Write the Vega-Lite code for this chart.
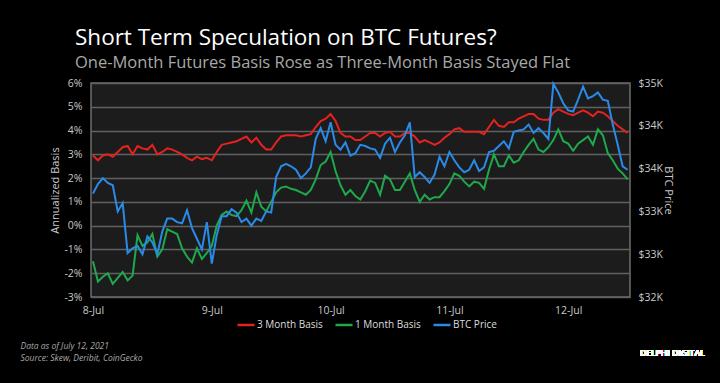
{
"$schema": "https://vega.github.io/schema/vega-lite/v6.json",
"width": 539, "height": 214,
"autosize": "none",
"padding": {"left": 91, "top": 83, "right": 90, "bottom": 86},
"background": "#000000",
"config": {
  "font": "Open Sans",
  "view": {"fill": "#1c1c1c", "stroke": "#6e6e6e", "strokeWidth": 1.5},
  "axis": {"labelColor": "#c8c8c8", "labelFontSize": 10.5, "titleColor": "#c8c8c8", "titleFontWeight": "normal", "titleFontSize": 11, "domain": false, "ticks": false, "grid": false, "labelOverlap": false}
},
"title": {"text": "Short Term Speculation on BTC Futures?", "subtitle": "One-Month Futures Basis Rose as Three-Month Basis Stayed Flat", "anchor": "start", "frame": "group", "color": "#ffffff", "fontSize": 22.5, "fontWeight": "normal", "subtitleColor": "#a8a8a8", "subtitleFontSize": 16.5, "dx": -16, "offset": 7, "subtitlePadding": 5},
"data": {"values": [
{"t":"2021-07-08T00:00","m3":2.95,"m1":-1.5,"btc":33208},
{"t":"2021-07-08T01:00","m3":2.75,"m1":-2.35,"btc":33319},
{"t":"2021-07-08T02:00","m3":2.95,"m1":-2.15,"btc":33389},
{"t":"2021-07-08T03:00","m3":3.0,"m1":-2.0,"btc":33333},
{"t":"2021-07-08T04:00","m3":2.9,"m1":-2.45,"btc":33305},
{"t":"2021-07-08T05:00","m3":3.1,"m1":-2.2,"btc":33000},
{"t":"2021-07-08T06:00","m3":3.3,"m1":-1.95,"btc":33097},
{"t":"2021-07-08T07:00","m3":3.35,"m1":-2.3,"btc":32514},
{"t":"2021-07-08T08:00","m3":3.0,"m1":-2.1,"btc":32569},
{"t":"2021-07-08T09:00","m3":3.35,"m1":-0.4,"btc":32597},
{"t":"2021-07-08T10:00","m3":3.25,"m1":-0.85,"btc":32500},
{"t":"2021-07-08T11:00","m3":3.2,"m1":-0.7,"btc":32708},
{"t":"2021-07-08T12:00","m3":3.4,"m1":-0.35,"btc":32639},
{"t":"2021-07-08T13:00","m3":3.0,"m1":-1.3,"btc":32500},
{"t":"2021-07-08T14:00","m3":3.1,"m1":-1.0,"btc":32764},
{"t":"2021-07-08T15:00","m3":3.25,"m1":-0.15,"btc":32916},
{"t":"2021-07-08T16:00","m3":3.2,"m1":-0.25,"btc":32916},
{"t":"2021-07-08T17:00","m3":3.1,"m1":-0.35,"btc":32875},
{"t":"2021-07-08T18:00","m3":3.0,"m1":-0.95,"btc":32861},
{"t":"2021-07-08T19:00","m3":2.85,"m1":-1.3,"btc":33014},
{"t":"2021-07-08T20:00","m3":2.75,"m1":-1.55,"btc":32805},
{"t":"2021-07-08T21:00","m3":2.9,"m1":-0.95,"btc":32680},
{"t":"2021-07-08T22:00","m3":2.8,"m1":-1.4,"btc":32555},
{"t":"2021-07-08T23:00","m3":2.85,"m1":-1.15,"btc":32875},
{"t":"2021-07-09T00:00","m3":2.75,"m1":-0.85,"btc":32389},
{"t":"2021-07-09T01:00","m3":3.1,"m1":0.0,"btc":32722},
{"t":"2021-07-09T02:00","m3":3.4,"m1":0.45,"btc":32944},
{"t":"2021-07-09T03:00","m3":3.45,"m1":0.6,"btc":32944},
{"t":"2021-07-09T04:00","m3":3.5,"m1":0.45,"btc":33027},
{"t":"2021-07-09T05:00","m3":3.55,"m1":0.4,"btc":32986},
{"t":"2021-07-09T06:00","m3":3.65,"m1":0.65,"btc":32875},
{"t":"2021-07-09T07:00","m3":3.75,"m1":1.05,"btc":32916},
{"t":"2021-07-09T08:00","m3":3.5,"m1":0.55,"btc":32833},
{"t":"2021-07-09T09:00","m3":3.7,"m1":1.4,"btc":32916},
{"t":"2021-07-09T10:00","m3":3.4,"m1":0.8,"btc":32889},
{"t":"2021-07-09T11:00","m3":3.2,"m1":0.6,"btc":33000},
{"t":"2021-07-09T12:00","m3":3.2,"m1":1.0,"btc":32986},
{"t":"2021-07-09T13:00","m3":3.5,"m1":1.4,"btc":33402},
{"t":"2021-07-09T14:00","m3":3.75,"m1":1.6,"btc":33527},
{"t":"2021-07-09T15:00","m3":3.8,"m1":1.65,"btc":33555},
{"t":"2021-07-09T16:00","m3":3.8,"m1":1.55,"btc":33527},
{"t":"2021-07-09T17:00","m3":3.8,"m1":1.5,"btc":33486},
{"t":"2021-07-09T18:00","m3":3.75,"m1":1.4,"btc":33389},
{"t":"2021-07-09T19:00","m3":3.8,"m1":1.3,"btc":33444},
{"t":"2021-07-09T20:00","m3":3.85,"m1":1.5,"btc":33514},
{"t":"2021-07-09T21:00","m3":4.15,"m1":1.95,"btc":33847},
{"t":"2021-07-09T22:00","m3":4.4,"m1":2.55,"btc":33972},
{"t":"2021-07-09T23:00","m3":4.5,"m1":2.7,"btc":33819},
{"t":"2021-07-10T00:00","m3":4.7,"m1":3.1,"btc":34041},
{"t":"2021-07-10T01:00","m3":4.4,"m1":2.3,"btc":33778},
{"t":"2021-07-10T02:00","m3":3.9,"m1":1.7,"btc":33722},
{"t":"2021-07-10T03:00","m3":3.75,"m1":1.3,"btc":33805},
{"t":"2021-07-10T04:00","m3":3.75,"m1":1.5,"btc":33652},
{"t":"2021-07-10T05:00","m3":3.6,"m1":1.25,"btc":33680},
{"t":"2021-07-10T06:00","m3":3.6,"m1":1.1,"btc":33778},
{"t":"2021-07-10T07:00","m3":3.75,"m1":1.45,"btc":33764},
{"t":"2021-07-10T08:00","m3":3.9,"m1":1.9,"btc":33736},
{"t":"2021-07-10T09:00","m3":3.9,"m1":1.8,"btc":33722},
{"t":"2021-07-10T10:00","m3":3.75,"m1":1.3,"btc":33625},
{"t":"2021-07-10T11:00","m3":3.9,"m1":2.1,"btc":33791},
{"t":"2021-07-10T12:00","m3":3.95,"m1":1.95,"btc":33861},
{"t":"2021-07-10T13:00","m3":3.75,"m1":1.5,"btc":33694},
{"t":"2021-07-10T14:00","m3":3.75,"m1":1.5,"btc":33805},
{"t":"2021-07-10T15:00","m3":3.9,"m1":1.85,"btc":33889},
{"t":"2021-07-10T16:00","m3":3.9,"m1":2.2,"btc":34041},
{"t":"2021-07-10T17:00","m3":3.75,"m1":1.5,"btc":33402},
{"t":"2021-07-10T18:00","m3":3.5,"m1":1.0,"btc":33458},
{"t":"2021-07-10T19:00","m3":3.6,"m1":1.3,"btc":33402},
{"t":"2021-07-10T20:00","m3":3.5,"m1":1.1,"btc":33333},
{"t":"2021-07-10T21:00","m3":3.4,"m1":1.2,"btc":33430},
{"t":"2021-07-10T22:00","m3":3.5,"m1":1.2,"btc":33639},
{"t":"2021-07-10T23:00","m3":3.7,"m1":1.45,"btc":33527},
{"t":"2021-07-11T00:00","m3":3.85,"m1":1.75,"btc":33694},
{"t":"2021-07-11T01:00","m3":4.05,"m1":2.2,"btc":33597},
{"t":"2021-07-11T02:00","m3":4.1,"m1":2.1,"btc":33514},
{"t":"2021-07-11T03:00","m3":3.95,"m1":1.85,"btc":33458},
{"t":"2021-07-11T04:00","m3":3.95,"m1":1.65,"btc":33486},
{"t":"2021-07-11T05:00","m3":3.95,"m1":1.85,"btc":33597},
{"t":"2021-07-11T06:00","m3":3.95,"m1":1.8,"btc":33472},
{"t":"2021-07-11T07:00","m3":3.85,"m1":1.55,"btc":33514},
{"t":"2021-07-11T08:00","m3":4.15,"m1":2.35,"btc":33694},
{"t":"2021-07-11T09:00","m3":4.45,"m1":3.0,"btc":33708},
{"t":"2021-07-11T10:00","m3":4.2,"m1":2.5,"btc":33764},
{"t":"2021-07-11T11:00","m3":4.15,"m1":2.5,"btc":33819},
{"t":"2021-07-11T12:00","m3":4.35,"m1":2.95,"btc":33736},
{"t":"2021-07-11T13:00","m3":4.35,"m1":2.65,"btc":33930},
{"t":"2021-07-11T14:00","m3":4.5,"m1":2.75,"btc":33944},
{"t":"2021-07-11T15:00","m3":4.6,"m1":3.1,"btc":33958},
{"t":"2021-07-11T16:00","m3":4.7,"m1":3.4,"btc":34014},
{"t":"2021-07-11T17:00","m3":4.7,"m1":3.65,"btc":33916},
{"t":"2021-07-11T18:00","m3":4.5,"m1":3.2,"btc":33972},
{"t":"2021-07-11T19:00","m3":4.45,"m1":3.1,"btc":33916},
{"t":"2021-07-11T20:00","m3":4.45,"m1":3.3,"btc":33847},
{"t":"2021-07-11T21:00","m3":4.75,"m1":3.6,"btc":34490},
{"t":"2021-07-11T22:00","m3":4.9,"m1":4.05,"btc":34389},
{"t":"2021-07-11T23:00","m3":4.8,"m1":3.55,"btc":34264},
{"t":"2021-07-12T00:00","m3":4.7,"m1":3.45,"btc":34180},
{"t":"2021-07-12T01:00","m3":4.65,"m1":3.15,"btc":34166},
{"t":"2021-07-12T02:00","m3":4.75,"m1":3.45,"btc":34305},
{"t":"2021-07-12T03:00","m3":4.85,"m1":3.6,"btc":34458},
{"t":"2021-07-12T04:00","m3":4.75,"m1":3.75,"btc":34319},
{"t":"2021-07-12T05:00","m3":4.6,"m1":3.4,"btc":34347},
{"t":"2021-07-12T06:00","m3":4.8,"m1":4.05,"btc":34389},
{"t":"2021-07-12T07:00","m3":4.75,"m1":3.8,"btc":34305},
{"t":"2021-07-12T08:00","m3":4.6,"m1":3.05,"btc":34291},
{"t":"2021-07-12T09:00","m3":4.4,"m1":2.75,"btc":34014},
{"t":"2021-07-12T10:00","m3":4.2,"m1":2.4,"btc":33778},
{"t":"2021-07-12T11:00","m3":4.05,"m1":2.2,"btc":33527},
{"t":"2021-07-12T12:00","m3":3.9,"m1":1.95,"btc":33486}
]},
"layer": [
  {
    "transform": [{"fold": ["m3", "m1"], "as": ["series", "value"]}],
    "mark": {"type": "line", "strokeWidth": 2},
    "encoding": {
      "x": {"field": "t", "type": "temporal",
            "scale": {"domain": [{"year": 2021, "month": 7, "date": 7, "hours": 23, "minutes": 36}, {"year": 2021, "month": 7, "date": 12, "hours": 12, "minutes": 29}]},
            "axis": {"format": "%-d-%b", "tickCount": {"interval": "day", "step": 1}, "labelPadding": 8, "labelFontSize": 10.5,
                     "title": ["Data as of July 12, 2021", "Source: Skew, Deribit, CoinGecko"],
                     "titleFontStyle": "italic", "titleFontSize": 8.5, "titleColor": "#a8a8a8", "titleAlign": "left", "titleAnchor": null,
                     "titleX": -71, "titleY": 51, "titleBaseline": "alphabetic", "titleLineHeight": 12}},
      "y": {"field": "value", "type": "quantitative",
            "scale": {"domain": [-3, 6], "nice": false},
            "axis": {"orient": "left", "values": [-3, -2, -1, 0, 1, 2, 3, 4, 5, 6], "labelExpr": "datum.value + '%'", "labelOverlap": false,
                     "title": "Annualized Basis", "titlePadding": 3, "labelPadding": 9,
                     "grid": true, "gridColor": "#606060", "gridWidth": 1.5}},
      "color": {"field": "series", "type": "nominal",
                "scale": {"domain": ["m3", "m1", "btc"], "range": ["#e5221e", "#1fa84c", "#2a8ae8"]},
                "legend": {"orient": "none", "legendX": 145, "legendY": 232, "direction": "horizontal", "title": null,
                           "symbolType": "stroke", "symbolSize": 289, "symbolStrokeWidth": 2.5,
                           "labelColor": "#dddddd", "labelFontSize": 10, "labelOffset": 1, "columnPadding": 7,
                           "labelExpr": "datum.label == 'm3' ? '3 Month Basis' : datum.label == 'm1' ? '1 Month Basis' : 'BTC Price'"}}
    }
  },
  {
    "mark": {"type": "line", "strokeWidth": 2},
    "encoding": {
      "x": {"field": "t", "type": "temporal"},
      "y": {"field": "btc", "type": "quantitative",
            "scale": {"domain": [32000, 34500], "nice": false},
            "axis": {"orient": "right", "values": [32000, 32500, 33000, 33500, 34000, 34500], "labelOverlap": false,
                     "labelExpr": "'$' + format(datum.value / 1000, '.0f') + 'K'",
                     "title": "BTC Price", "titlePadding": 0, "labelPadding": 8}},
      "color": {"datum": "btc"}
    }
  },
  {
    "mark": {"type": "text", "text": "DELPHI DIGITAL", "align": "left", "baseline": "middle", "font": "Open Sans", "fontSize": 8.5, "fontWeight": 600, "color": "#ffffff"},
    "encoding": {
      "x": {"datum": {"year": 2021, "month": 7, "date": 12, "hours": 14, "minutes": 30}, "type": "temporal"},
      "y": {"datum": -5.35, "type": "quantitative", "scale": {"domain": [-3, 6], "nice": false}, "axis": null}
    }
  }
],
"resolve": {"scale": {"y": "independent"}}
}
